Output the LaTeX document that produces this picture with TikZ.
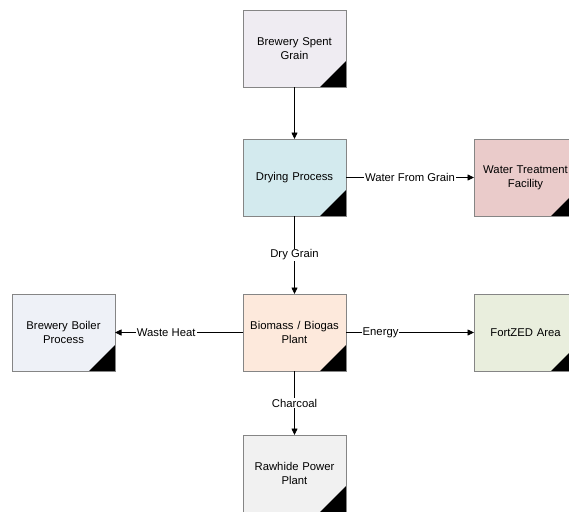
\documentclass[tikz,border=0pt]{standalone}
\usepackage{fontspec}
\setmainfont{Liberation Sans}
\usetikzlibrary{arrows.meta,positioning}
\definecolor{boxline}{HTML}{858585}
\definecolor{spentfill}{HTML}{EFECF2}
\definecolor{dryfill}{HTML}{D3EAEE}
\definecolor{waterfill}{HTML}{EACBCA}
\definecolor{biofill}{HTML}{FDE9DC}
\definecolor{boilerfill}{HTML}{EEF1F7}
\definecolor{zedfill}{HTML}{E9EEDD}
\definecolor{rawfill}{HTML}{F1F1F1}
\begin{document}
\begin{tikzpicture}[node distance=128pt,>={Triangle[length=6.5pt,width=6pt]},
box/.style={draw=boxline,line width=0.9pt,align=center,font=\fontsize{11.3}{14}\selectfont,text width=95pt,minimum width=103pt,minimum height=77pt,inner sep=0pt,outer sep=0pt,
  path picture={\fill[black] (path picture bounding box.south east)--++(-26pt,0)--++(26pt,26pt)--cycle;}},
flow/.style={->,line width=0.8pt},
lbl/.style={fill=white,inner sep=1pt,font=\fontsize{11.3}{14}\selectfont}]
\useasboundingbox (0,0) rectangle (569pt,-511pt);
\node[box,fill=spentfill] (spent) at (294.5pt,-48.5pt) {Brewery Spent\\Grain};
\node[box,fill=dryfill,below=52pt of spent] (drying) {Drying Process};
\node[box,fill=waterfill,right=of drying] (water) {Water Treatment\\Facility};
\node[box,fill=biofill,below=78pt of drying] (biomass) {Biomass / Biogas\\Plant};
\node[box,fill=boilerfill,left=of biomass] (boiler) {Brewery Boiler\\Process};
\node[box,fill=zedfill,right=of biomass] (fortzed) {FortZED Area};
\node[box,fill=rawfill,below=64pt of biomass] (rawhide) {Rawhide Power\\Plant};
\draw[flow] (spent)--(drying);
\draw[flow] (drying)--node[lbl]{Water From Grain}(water);
\draw[flow] (drying)--node[lbl]{Dry Grain}(biomass);
\draw[flow] (biomass)--node[lbl,pos=.6]{Waste Heat}(boiler);
\draw[flow] (biomass)--node[lbl,pos=.27]{Energy}(fortzed);
\draw[flow] (biomass)--node[lbl]{Charcoal}(rawhide);
\end{tikzpicture}
\end{document}
